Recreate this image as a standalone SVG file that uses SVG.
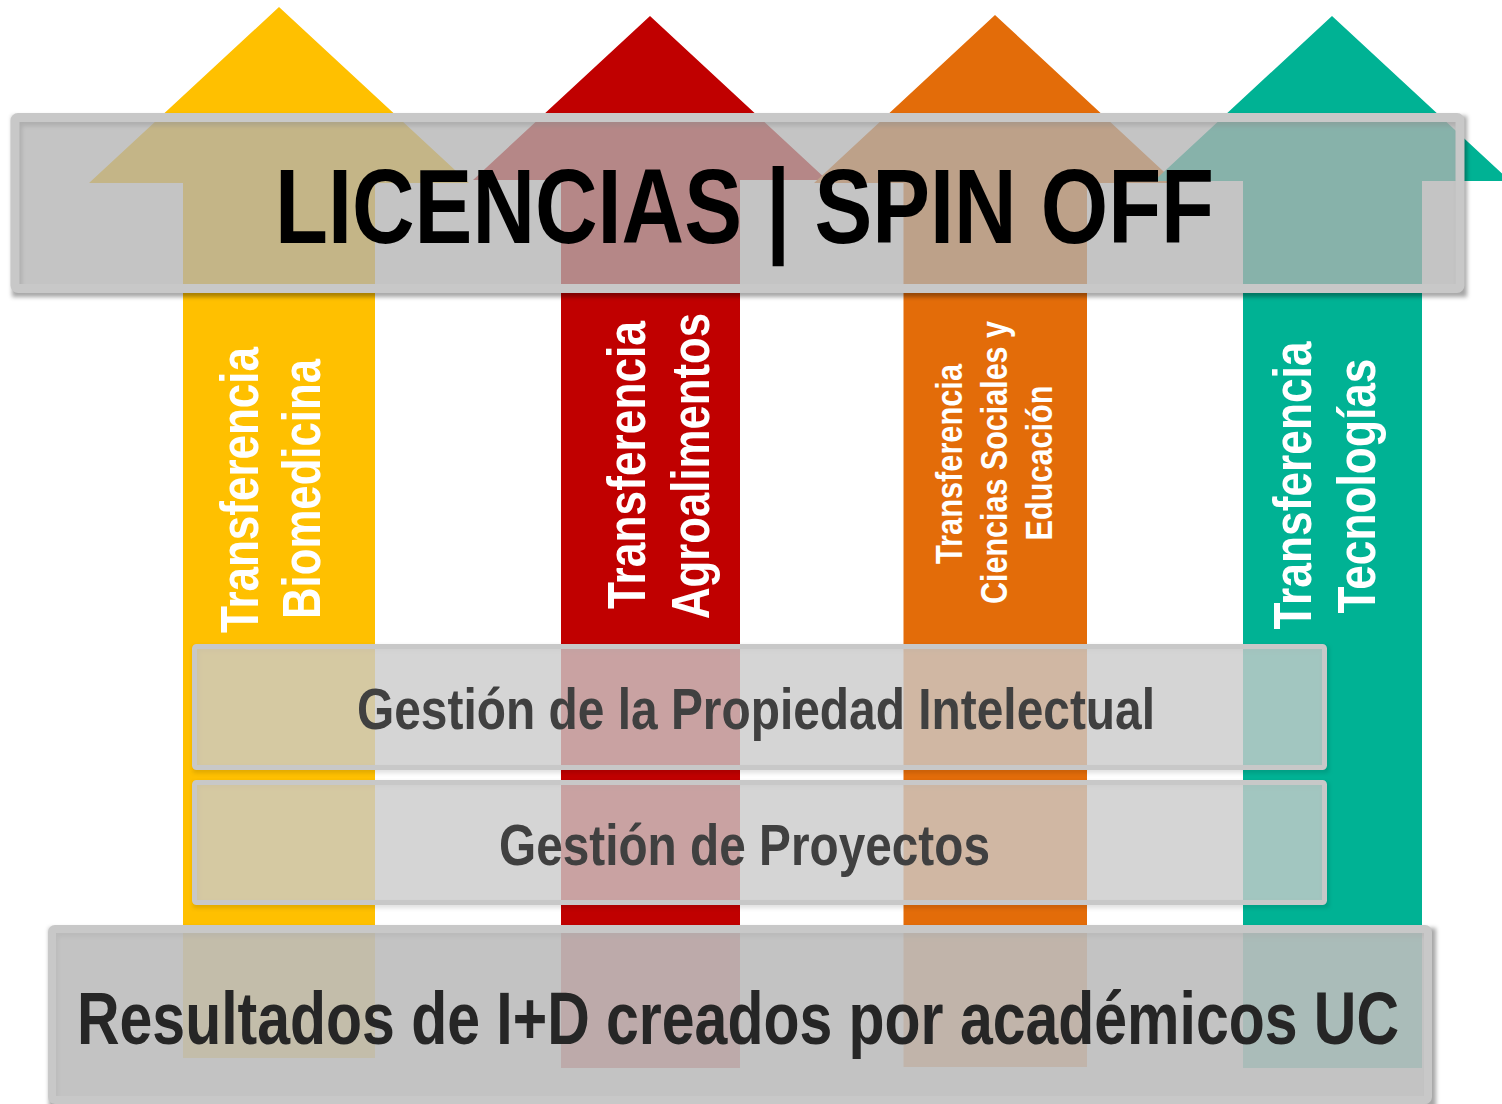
<svg xmlns="http://www.w3.org/2000/svg" width="1502" height="1104" viewBox="0 0 1502 1104">
  <defs>
    <style>
      .vt { font-family: "Liberation Sans Narrow", "Liberation Sans", Arial, sans-serif; font-weight: bold; fill: #ffffff; text-anchor: middle; }
      .ht { font-family: "Liberation Sans Narrow", "Liberation Sans", Arial, sans-serif; font-weight: bold; }
      .border { fill: none; stroke: #c8c8c8; }
      .shadow { fill: #000000; fill-opacity: 0.35; fill-rule: evenodd; filter: url(#blur); }
    </style>
    <filter id="blur" x="-5%" y="-20%" width="110%" height="140%">
      <feGaussianBlur stdDeviation="2.2"/>
    </filter>
  </defs>
  <rect x="0" y="0" width="1502" height="1104" fill="#ffffff"/>

  <!-- Arrows -->
  <g id="arrow-biomedicina">
    <path d="M279,7 L469,183 L375,183 L375,1058 L183,1058 L183,183 L89,183 Z" fill="#FFC000"/>
    <text class="vt" font-size="54" transform="translate(258,490) rotate(-90)" textLength="286" lengthAdjust="spacingAndGlyphs">Transferencia</text>
    <text class="vt" font-size="54" transform="translate(320,489) rotate(-90)" textLength="260" lengthAdjust="spacingAndGlyphs">Biomedicina</text>
  </g>
  <g id="arrow-agroalimentos">
    <path d="M650,16 L827,180 L740,180 L740,1068 L561,1068 L561,180 L473,180 Z" fill="#C00000"/>
    <text class="vt" font-size="54" transform="translate(645,465) rotate(-90)" textLength="288" lengthAdjust="spacingAndGlyphs">Transferencia</text>
    <text class="vt" font-size="54" transform="translate(709,466) rotate(-90)" textLength="306" lengthAdjust="spacingAndGlyphs">Agroalimentos</text>
  </g>
  <g id="arrow-sociales">
    <path d="M995,15 L1176,183 L1087,183 L1087,1067 L903.5,1067 L903.5,183 L814,183 Z" fill="#E36C09"/>
    <text class="vt" font-size="37" transform="translate(962,464) rotate(-90)" textLength="200" lengthAdjust="spacingAndGlyphs">Transferencia</text>
    <text class="vt" font-size="37" transform="translate(1007,462.5) rotate(-90)" textLength="283" lengthAdjust="spacingAndGlyphs">Ciencias Sociales y</text>
    <text class="vt" font-size="37" transform="translate(1052,463) rotate(-90)" textLength="155" lengthAdjust="spacingAndGlyphs">Educación</text>
  </g>
  <g id="arrow-tecnologias">
    <path d="M1332,16 L1510,181 L1422,181 L1422,1068 L1243,1068 L1243,181 L1154,181 Z" fill="#00B294"/>
    <text class="vt" font-size="54" transform="translate(1311,485.5) rotate(-90)" textLength="288" lengthAdjust="spacingAndGlyphs">Transferencia</text>
    <text class="vt" font-size="54" transform="translate(1375,486) rotate(-90)" textLength="255" lengthAdjust="spacingAndGlyphs">Tecnologías</text>
  </g>

  <g id="connectors"/>

  <!-- Top box -->
  <g id="box-licencias">
    <path class="shadow" d="M12,116 H1467 V297 H12 Z M22,126 H1457 V289 H22 Z"/>
    <rect x="15" y="117.5" width="1445" height="171" rx="3" fill="#b1b1b1" fill-opacity="0.76"/>
    <rect class="border" x="15" y="117.5" width="1445" height="171" rx="3" stroke-width="9"/>
    <text class="ht" x="275" y="243" font-size="106" fill="#000000" textLength="939" lengthAdjust="spacingAndGlyphs">LICENCIAS | SPIN OFF</text>
  </g>

  <!-- Middle boxes -->
  <g id="box-propiedad">
    <path class="shadow" d="M193,646 H1329 V773 H193 Z M199,651 H1323 V767 H199 Z" style="fill-opacity:0.12"/>
    <rect x="194.5" y="646.5" width="1130" height="121" rx="2" fill="#cacaca" fill-opacity="0.8"/>
    <rect class="border" x="194.5" y="646.5" width="1130" height="121" rx="2" stroke-width="5" stroke="#cacaca"/>
    <text class="ht" x="357" y="729" font-size="58" fill="#404040" textLength="798" lengthAdjust="spacingAndGlyphs">Gestión de la Propiedad Intelectual</text>
  </g>
  <g id="box-proyectos">
    <path class="shadow" d="M193,782 H1329 V908 H193 Z M199,787 H1323 V902 H199 Z" style="fill-opacity:0.12"/>
    <rect x="194.5" y="782.5" width="1130" height="120" rx="2" fill="#cacaca" fill-opacity="0.8"/>
    <rect class="border" x="194.5" y="782.5" width="1130" height="120" rx="2" stroke-width="5" stroke="#cacaca"/>
    <text class="ht" x="499" y="865" font-size="58" fill="#404040" textLength="491" lengthAdjust="spacingAndGlyphs">Gestión de Proyectos</text>
  </g>

  <!-- Bottom box -->
  <g id="box-resultados">
    <path class="shadow" d="M49,928 H1436 V1112 H49 Z M58,937 H1426 V1104 H58 Z"/>
    <rect x="52" y="929" width="1376" height="171" rx="3" fill="#bdbdbd" fill-opacity="0.9"/>
    <rect class="border" x="52" y="929" width="1376" height="171" rx="3" stroke-width="8"/>
    <text class="ht" x="77" y="1044" font-size="74" fill="#262626" textLength="1322" lengthAdjust="spacingAndGlyphs">Resultados de I+D creados por académicos UC</text>
  </g>
</svg>
